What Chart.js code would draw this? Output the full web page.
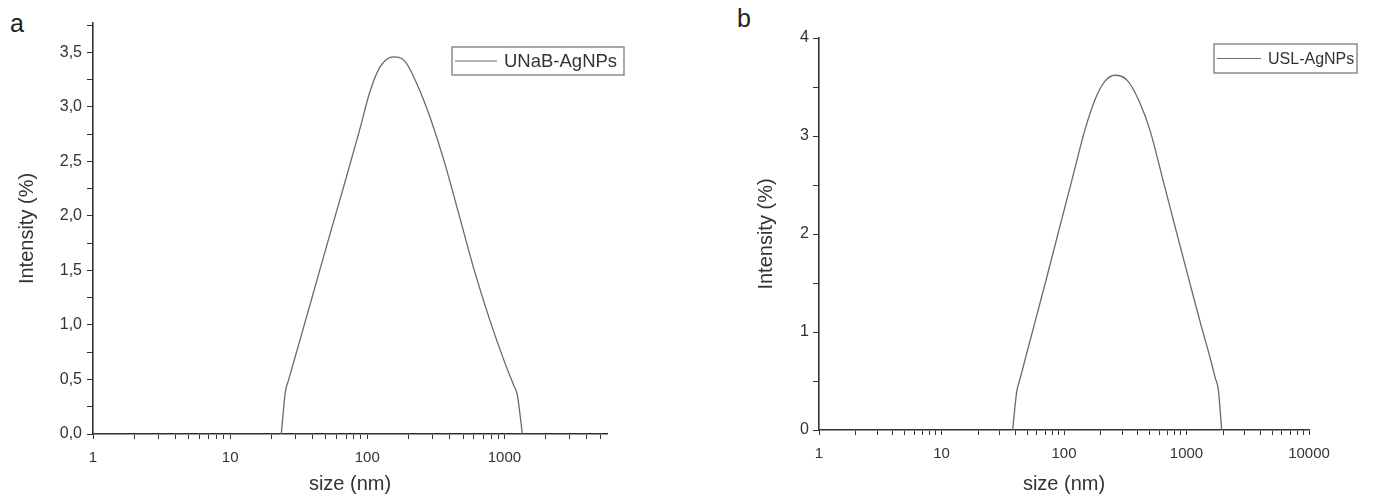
<!DOCTYPE html>
<html>
<head>
<meta charset="utf-8">
<script src="https://cdn.jsdelivr.net/npm/chart.js"></script>
<style>
  body { margin: 0; background: #fff; width: 1378px; height: 497px; overflow: hidden; position: relative; }
  canvas { position: absolute; top: 0; }
  #cA { left: 0; }
  #cB { left: 689px; }
  .tag { position: absolute; font-family: "Liberation Sans", Arial, sans-serif; font-size: 25px; color: #222; }
</style>
</head>
<body>
<div class="tag" style="left:10px; top:9px;">a</div>
<div class="tag" style="left:737px; top:4px;">b</div>
<canvas id="cA" width="689" height="497"></canvas>
<canvas id="cB" width="689" height="497"></canvas>
<script>
// panel a - UNaB-AgNPs (size nm / intensity %)
var sizeA = [23.6, 25.3, 26.6, 32.1, 41.2, 53.1, 68.4, 88.0, 104, 123, 154, 188, 234, 286, 368, 474, 610, 785, 1010, 1175, 1242, 1352];
var intA  = [0, 0.39, 0.49, 0.85, 1.33, 1.82, 2.30, 2.79, 3.13, 3.36, 3.46, 3.42, 3.19, 2.91, 2.48, 1.98, 1.48, 1.04, 0.65, 0.44, 0.36, 0];
// panel b - USL-AgNPs
var sizeB = [38.1, 41.1, 43.5, 52.8, 70.0, 92.7, 116, 148, 179, 216, 261, 327, 409, 503, 643, 820, 1029, 1288, 1556, 1718, 1819, 1937];
var intB  = [0, 0.39, 0.51, 0.91, 1.49, 2.08, 2.55, 3.06, 3.37, 3.56, 3.62, 3.57, 3.36, 3.06, 2.55, 2.04, 1.57, 1.11, 0.74, 0.53, 0.41, 0];

// ticks
var xMajorA = [1, 10, 100, 1000];
var xMajorB = [1, 10, 100, 1000, 10000];
var yMajorA = [0, 0.5, 1, 1.5, 2, 2.5, 3, 3.5];
var yLabelA = ['0,0', '0,5', '1,0', '1,5', '2,0', '2,5', '3,0', '3,5'];
var yMinorA = [0.25, 0.75, 1.25, 1.75, 2.25, 2.75, 3.25, 3.75];
var yMajorB = [0, 1, 2, 3, 4];
var yLabelB = ['0', '1', '2', '3', '4'];
var yMinorB = [0.5, 1.5, 2.5, 3.5];

Chart.defaults.font.family = '"Liberation Sans", Arial, sans-serif';
Chart.defaults.color = '#333';

function logTicks(majors, max) {//decades + 2..9 in between
    var t = [];
    for (var i = 0; i < majors.length; i++) {
        var d = majors[i];
        t.push(d);
        for (var k = 2; k <= 9; k++) {
            if (d * k <= max) t.push(d * k);
        }
    }
    return t;
}

var boxLegend = {
    id: 'boxLegend',
    afterDraw: function (chart, args, o) {
        var ctx = chart.ctx;
        var ds = chart.data.datasets[0];
        ctx.save();
        ctx.strokeStyle = '#8c8c8c';
        ctx.lineWidth = 1.5;
        ctx.strokeRect(o.x, o.y, o.w, o.h);
        ctx.strokeStyle = ds.borderColor;
        ctx.lineWidth = 1.2;
        ctx.beginPath();
        ctx.moveTo(o.x + 3, o.y + o.h / 2);
        ctx.lineTo(o.x + 3 + o.line, o.y + o.h / 2);
        ctx.stroke();
        ctx.fillStyle = '#333';
        ctx.font = o.size + 'px "Liberation Sans", Arial, sans-serif';
        ctx.textBaseline = 'middle';
        ctx.fillText(ds.label, o.x + o.line + 10, o.y + o.h / 2 + 1);
        ctx.restore();
    }
};

function makeChart(id, label, sizes, ints, cfg) {
    var pts = sizes.map(function (s, i) { return { x: s, y: ints[i] }; });
    var xVals = logTicks(cfg.xMajor, cfg.xMax);
    var yVals = cfg.yMajor.concat(cfg.yMinor).sort(function (a, b) { return a - b; });
    return new Chart(document.getElementById(id), {
        type: 'line',
        data: {
            datasets: [{
                label: label,
                data: pts,
                borderColor: '#6a6a6a',
                borderWidth: 1.3,
                pointRadius: 0,
                fill: false,
                cubicInterpolationMode: 'monotone'
            }]
        },
        options: {
            responsive: false,
            animation: false,
            events: [],
            layout: { padding: cfg.pad },
            plugins: {
                legend: { display: false },
                tooltip: { enabled: false },
                boxLegend: cfg.legend
            },
            scales: {
                x: {
                    type: 'logarithmic',
                    min: 1,
                    max: cfg.xMax,
                    afterBuildTicks: function (s) {
                        s.ticks = xVals.map(function (v) { return { value: v }; });
                    },
                    afterFit: function (s) { s.height = cfg.xH; },
                    border: { color: '#333', width: 1.6 },
                    grid: { drawOnChartArea: false, drawTicks: true, tickLength: 5, tickColor: '#333', tickWidth: 1 },
                    ticks: {
                        autoSkip: false,
                        maxRotation: 0,
                        padding: 10,
                        font: { size: 15 },
                        callback: function (v) {
                            var i = cfg.xMajor.indexOf(v);
                            return i >= 0 ? String(cfg.xMajor[i]) : '';
                        }
                    },
                    title: { display: true, text: 'size (nm)', font: { size: 20 }, padding: { top: 0, bottom: 1 } }
                },
                y: {
                    min: 0,
                    max: cfg.yMax,
                    afterBuildTicks: function (s) {
                        s.ticks = yVals.map(function (v) { return { value: v }; });
                    },
                    afterFit: function (s) { s.width = cfg.yW; },
                    border: { color: '#333', width: 1.6 },
                    grid: { drawOnChartArea: false, drawTicks: true, tickLength: 6, tickColor: '#333', tickWidth: 1 },
                    ticks: {
                        autoSkip: false,
                        padding: cfg.yPad,
                        font: { size: 16 },
                        callback: function (v) {
                            var i = cfg.yMajor.indexOf(v);
                            return i >= 0 ? cfg.yLabel[i] : '';
                        }
                    },
                    title: { display: true, text: 'Intensity (%)', font: { size: 20 }, padding: { top: 15, bottom: 0 } }
                }
            }
        },
        plugins: [boxLegend]
    });
}

makeChart('cA', 'UNaB-AgNPs', sizeA, intA, {
    xMajor: xMajorA, xMax: 5600,
    yMajor: yMajorA, yMinor: yMinorA, yLabel: yLabelA, yMax: 3.77,
    pad: { left: 0, right: 82, top: 23, bottom: 0 },
    xH: 63, yW: 93, yPad: 5,
    legend: { x: 452, y: 47, w: 172, h: 28, line: 42, size: 18.5 }
});

makeChart('cB', 'USL-AgNPs', sizeB, intB, {
    xMajor: xMajorB, xMax: 10000,
    yMajor: yMajorB, yMinor: yMinorB, yLabel: yLabelB, yMax: 4,
    pad: { left: 50, right: 69, top: 38, bottom: 0 },
    xH: 67, yW: 80, yPad: 4,
    legend: { x: 525, y: 44, w: 143, h: 29, line: 44, size: 16 }
});
</script>
</body>
</html>
